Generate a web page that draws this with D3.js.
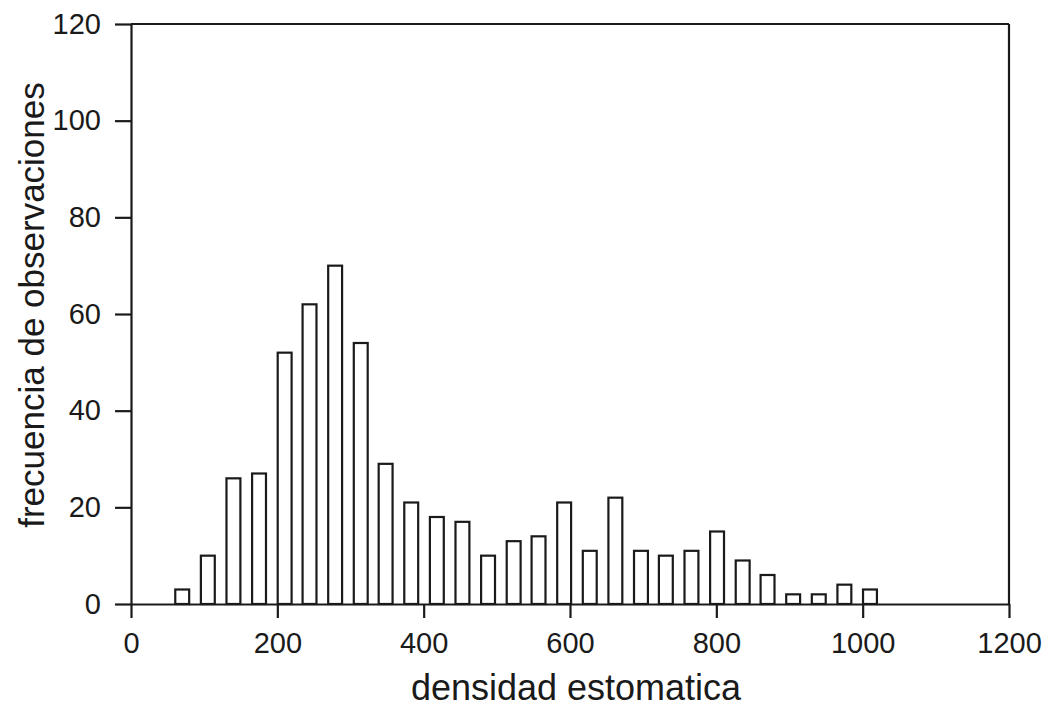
<!DOCTYPE html>
<html>
<head>
<meta charset="utf-8">
<script src="https://cdn.jsdelivr.net/npm/d3@7"></script>
<style>
  html, body { margin: 0; padding: 0; background: #fff; }
  svg { display: block; }
</style>
</head>
<body>
<svg id="chart" width="1050" height="713"></svg>
<script>
// ---- data ----
const binCenters = [70, 105, 140, 175, 210, 244, 279, 314, 348, 383, 418, 453, 488, 523,
                    557, 592, 627, 662, 697, 731, 766, 801, 836, 870, 905, 940, 975, 1010];
const counts = [3, 10, 26, 27, 52, 62, 70, 54, 29, 21, 18, 17, 10, 13,
                14, 21, 11, 22, 11, 10, 11, 15, 9, 6, 2, 2, 4, 3];
const xTicks = [0, 200, 400, 600, 800, 1000, 1200];
const yTicks = [0, 20, 40, 60, 80, 100, 120];
const xLabel = "densidad estomatica";
const yLabel = "frecuencia de observaciones";

// ---- layout ----
const W = 1050, H = 713;
const margin = { left: 131, right: 41, top: 24, bottom: 109 };
const ink = "#1a1a1a";
const font = "'Liberation Sans', Arial, Helvetica, sans-serif";
const barWidth = 19; // in data units
const sw = 2.2;

const svg = d3.select("#chart");
const x = d3.scaleLinear().domain([0, 1200]).range([margin.left, W - margin.right]);
const y = d3.scaleLinear().domain([0, 120]).range([H - margin.bottom, margin.top]);

// bars
svg.append("g")
  .selectAll("rect")
  .data(binCenters.map((c, i) => ({ c, v: counts[i] })))
  .join("rect")
  .attr("x", d => x(d.c - barWidth / 2))
  .attr("width", d => x(d.c + barWidth / 2) - x(d.c - barWidth / 2))
  .attr("y", d => y(d.v))
  .attr("height", d => y(0) - y(d.v))
  .attr("fill", "#fff")
  .attr("stroke", ink)
  .attr("stroke-width", sw);

// frame (top and right)
svg.append("line")
  .attr("x1", x(0)).attr("x2", x(1200))
  .attr("y1", y(120)).attr("y2", y(120))
  .attr("stroke", ink).attr("stroke-width", sw);
svg.append("line")
  .attr("x1", x(1200)).attr("x2", x(1200))
  .attr("y1", y(120)).attr("y2", y(0))
  .attr("stroke", ink).attr("stroke-width", sw);

// axes
const gx = svg.append("g")
  .attr("transform", `translate(0,${y(0)})`)
  .call(d3.axisBottom(x).tickValues(xTicks).tickFormat(d3.format("d"))
        .tickSize(14).tickSizeOuter(0).tickPadding(14));
const gy = svg.append("g")
  .attr("transform", `translate(${x(0)},0)`)
  .call(d3.axisLeft(y).tickValues(yTicks).tickFormat(d3.format("d"))
        .tickSize(16).tickSizeOuter(0).tickPadding(14));

[gx, gy].forEach(g => {
  g.selectAll("path.domain").attr("stroke", ink).attr("stroke-width", sw);
  g.selectAll(".tick line").attr("stroke", ink).attr("stroke-width", sw);
  g.selectAll(".tick text")
    .attr("fill", ink)
    .style("font-family", font)
    .style("font-size", "29px");
});

// axis titles
svg.append("text")
  .attr("x", 576).attr("y", 700)
  .attr("text-anchor", "middle")
  .attr("fill", ink)
  .style("font-family", font)
  .style("font-size", "36px")
  .text(xLabel);

svg.append("text")
  .attr("transform", `translate(44,${(y(0) + y(120)) / 2 - 9}) rotate(-90)`)
  .attr("text-anchor", "middle")
  .attr("fill", ink)
  .style("font-family", font)
  .style("font-size", "35px")
  .text(yLabel);
</script>
</body>
</html>
